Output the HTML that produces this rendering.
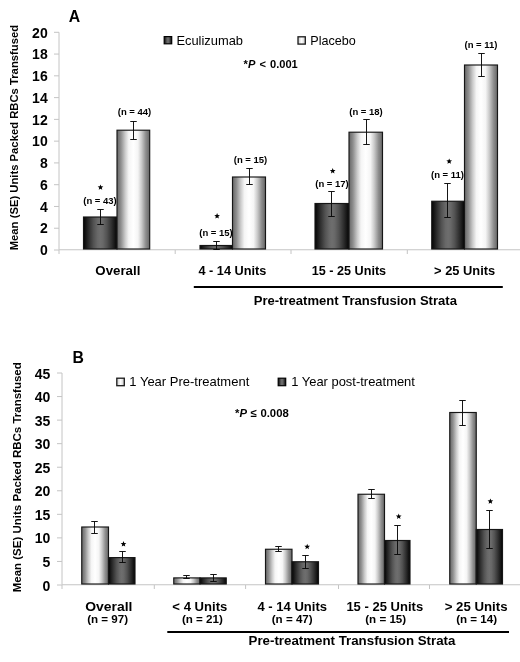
<!DOCTYPE html>
<html><head><meta charset="utf-8"><title>Figure</title>
<style>
html,body{margin:0;padding:0;background:#fff;}
body{width:520px;height:662px;overflow:hidden;font-family:"Liberation Sans",sans-serif;}
svg{display:block;will-change:transform;}
text{font-family:"Liberation Sans",sans-serif;fill:#000;}
.b{font-weight:bold;}
</style></head><body>
<svg width="520" height="662" viewBox="0 0 520 662">
<defs>
<linearGradient id="gl" x1="0" x2="1" y1="0" y2="0">
<stop offset="0" stop-color="#666"/><stop offset="0.12" stop-color="#8e8e8e"/><stop offset="0.25" stop-color="#cbcbcb"/><stop offset="0.36" stop-color="#f5f5f5"/><stop offset="0.5" stop-color="#fff"/><stop offset="0.64" stop-color="#f5f5f5"/><stop offset="0.75" stop-color="#cbcbcb"/><stop offset="0.88" stop-color="#8e8e8e"/><stop offset="1" stop-color="#666"/>
</linearGradient>
<linearGradient id="gs" x1="0" x2="1" y1="0" y2="0">
<stop offset="0" stop-color="#c8c8c8"/><stop offset="0.5" stop-color="#ffffff"/><stop offset="1" stop-color="#c8c8c8"/>
</linearGradient>
<linearGradient id="gd" x1="0" x2="1" y1="0" y2="0">
<stop offset="0" stop-color="#040404"/><stop offset="0.15" stop-color="#2c2c2c"/><stop offset="0.3" stop-color="#525252"/><stop offset="0.42" stop-color="#686868"/><stop offset="0.5" stop-color="#6e6e6e"/><stop offset="0.58" stop-color="#686868"/><stop offset="0.7" stop-color="#525252"/><stop offset="0.85" stop-color="#2c2c2c"/><stop offset="1" stop-color="#040404"/>
</linearGradient>
</defs>
<rect width="520" height="662" fill="#fff"/>

<path d="M59.0 32.3V249.75H520" stroke="#c4c4c4" stroke-width="1" fill="none"/>
<path d="M54.0 250.00H59.0" stroke="#c4c4c4" stroke-width="1"/>
<text x="47.70" y="255.20" font-size="14" class="b" text-anchor="end" >0</text>
<path d="M54.0 228.23H59.0" stroke="#c4c4c4" stroke-width="1"/>
<text x="47.70" y="233.43" font-size="14" class="b" text-anchor="end" >2</text>
<path d="M54.0 206.46H59.0" stroke="#c4c4c4" stroke-width="1"/>
<text x="47.70" y="211.66" font-size="14" class="b" text-anchor="end" >4</text>
<path d="M54.0 184.69H59.0" stroke="#c4c4c4" stroke-width="1"/>
<text x="47.70" y="189.89" font-size="14" class="b" text-anchor="end" >6</text>
<path d="M54.0 162.92H59.0" stroke="#c4c4c4" stroke-width="1"/>
<text x="47.70" y="168.12" font-size="14" class="b" text-anchor="end" >8</text>
<path d="M54.0 141.15H59.0" stroke="#c4c4c4" stroke-width="1"/>
<text x="47.70" y="146.35" font-size="14" class="b" text-anchor="end" >10</text>
<path d="M54.0 119.38H59.0" stroke="#c4c4c4" stroke-width="1"/>
<text x="47.70" y="124.58" font-size="14" class="b" text-anchor="end" >12</text>
<path d="M54.0 97.61H59.0" stroke="#c4c4c4" stroke-width="1"/>
<text x="47.70" y="102.81" font-size="14" class="b" text-anchor="end" >14</text>
<path d="M54.0 75.84H59.0" stroke="#c4c4c4" stroke-width="1"/>
<text x="47.70" y="81.04" font-size="14" class="b" text-anchor="end" >16</text>
<path d="M54.0 54.07H59.0" stroke="#c4c4c4" stroke-width="1"/>
<text x="47.70" y="59.27" font-size="14" class="b" text-anchor="end" >18</text>
<path d="M54.0 32.30H59.0" stroke="#c4c4c4" stroke-width="1"/>
<text x="47.70" y="37.50" font-size="14" class="b" text-anchor="end" >20</text>
<path d="M59.00 250.0V254.0" stroke="#c4c4c4" stroke-width="1"/>
<path d="M175.20 250.0V254.0" stroke="#c4c4c4" stroke-width="1"/>
<path d="M291.00 250.0V254.0" stroke="#c4c4c4" stroke-width="1"/>
<path d="M407.30 250.0V254.0" stroke="#c4c4c4" stroke-width="1"/>
<rect x="83.50" y="217.00" width="33.50" height="32.00" fill="url(#gd)" stroke="#161616" stroke-width="1.15"/>
<rect x="117.00" y="130.20" width="32.70" height="118.80" fill="url(#gl)" stroke="#161616" stroke-width="1.15"/>
<path d="M100.50 209.50V224.50M97.25 209.50H103.75M97.25 224.50H103.75" stroke="#0a0a0a" stroke-width="0.95" fill="none"/>
<path d="M133.50 121.50V139.50M130.25 121.50H136.75M130.25 139.50H136.75" stroke="#0a0a0a" stroke-width="0.95" fill="none"/>
<rect x="200.00" y="245.50" width="32.50" height="3.50" fill="url(#gd)" stroke="#161616" stroke-width="1.15"/>
<rect x="232.50" y="177.00" width="33.00" height="72.00" fill="url(#gl)" stroke="#161616" stroke-width="1.15"/>
<path d="M216.50 241.50V249.50M213.25 241.50H219.75M213.25 249.50H219.75" stroke="#0a0a0a" stroke-width="0.95" fill="none"/>
<path d="M249.50 168.50V184.50M246.25 168.50H252.75M246.25 184.50H252.75" stroke="#0a0a0a" stroke-width="0.95" fill="none"/>
<rect x="315.00" y="203.50" width="34.00" height="45.50" fill="url(#gd)" stroke="#161616" stroke-width="1.15"/>
<rect x="349.00" y="132.20" width="33.50" height="116.80" fill="url(#gl)" stroke="#161616" stroke-width="1.15"/>
<path d="M331.50 191.50V216.50M328.25 191.50H334.75M328.25 216.50H334.75" stroke="#0a0a0a" stroke-width="0.95" fill="none"/>
<path d="M366.50 119.50V144.50M363.25 119.50H369.75M363.25 144.50H369.75" stroke="#0a0a0a" stroke-width="0.95" fill="none"/>
<rect x="431.75" y="201.25" width="32.75" height="47.75" fill="url(#gd)" stroke="#161616" stroke-width="1.15"/>
<rect x="464.50" y="65.00" width="33.00" height="184.00" fill="url(#gl)" stroke="#161616" stroke-width="1.15"/>
<path d="M447.50 183.50V217.50M444.25 183.50H450.75M444.25 217.50H450.75" stroke="#0a0a0a" stroke-width="0.95" fill="none"/>
<path d="M481.50 53.50V76.50M478.25 53.50H484.75M478.25 76.50H484.75" stroke="#0a0a0a" stroke-width="0.95" fill="none"/>
<text x="100.00" y="204.10" font-size="9.5" class="b" text-anchor="middle" >(n = 43)</text>
<polygon points="100.50,184.40 101.26,186.35 103.35,186.47 101.74,187.80 102.26,189.83 100.50,188.70 98.74,189.83 99.26,187.80 97.65,186.47 99.74,186.35" fill="#000"/>
<text x="134.50" y="114.60" font-size="9.5" class="b" text-anchor="middle" >(n = 44)</text>
<text x="216.00" y="235.60" font-size="9.5" class="b" text-anchor="middle" >(n = 15)</text>
<polygon points="217.10,213.10 217.86,215.05 219.95,215.17 218.34,216.50 218.86,218.53 217.10,217.40 215.34,218.53 215.86,216.50 214.25,215.17 216.34,215.05" fill="#000"/>
<text x="250.50" y="163.10" font-size="9.5" class="b" text-anchor="middle" >(n = 15)</text>
<text x="332.00" y="187.10" font-size="9.5" class="b" text-anchor="middle" >(n = 17)</text>
<polygon points="332.70,168.00 333.46,169.95 335.55,170.07 333.94,171.40 334.46,173.43 332.70,172.30 330.94,173.43 331.46,171.40 329.85,170.07 331.94,169.95" fill="#000"/>
<text x="366.00" y="114.60" font-size="9.5" class="b" text-anchor="middle" >(n = 18)</text>
<text x="447.50" y="177.60" font-size="9.5" class="b" text-anchor="middle" >(n = 11)</text>
<polygon points="449.20,158.40 449.96,160.35 452.05,160.47 450.44,161.80 450.96,163.83 449.20,162.70 447.44,163.83 447.96,161.80 446.35,160.47 448.44,160.35" fill="#000"/>
<text x="481.00" y="47.60" font-size="9.5" class="b" text-anchor="middle" >(n = 11)</text>
<text x="95.35" y="275.10" font-size="12.7" class="b" textLength="45.03" lengthAdjust="spacingAndGlyphs">Overall</text>
<text x="198.50" y="275.10" font-size="12.7" class="b" textLength="67.83" lengthAdjust="spacingAndGlyphs">4 - 14 Units</text>
<text x="311.74" y="275.10" font-size="12.7" class="b" textLength="74.39" lengthAdjust="spacingAndGlyphs">15 - 25 Units</text>
<text x="434.10" y="275.10" font-size="12.7" class="b" textLength="61.13" lengthAdjust="spacingAndGlyphs">&gt; 25 Units</text>
<path d="M193.8 286.9H502.8" stroke="#000" stroke-width="2"/>
<text x="253.72" y="305.20" font-size="13.1" class="b" textLength="203.19" lengthAdjust="spacingAndGlyphs">Pre-treatment Transfusion Strata</text>
<rect x="164.2" y="36.6" width="7.5" height="7.2" fill="url(#gd)" stroke="#000" stroke-width="1.2"/>
<text x="176.40" y="44.70" font-size="12.9" class="" text-anchor="start" >Eculizumab</text>
<rect x="298" y="36.8" width="7.3" height="7.3" fill="url(#gs)" stroke="#1a1a1a" stroke-width="1.3"/>
<text x="310.30" y="44.70" font-size="12.6" class="" text-anchor="start" >Placebo</text>
<text x="243.60" y="67.90" font-size="11.1" class="b" text-anchor="start" word-spacing="1">*<tspan font-style="italic">P</tspan> &lt; 0.001</text>
<text x="68.80" y="22.00" font-size="15.8" class="b" text-anchor="start" >A</text>
<text transform="translate(18.2,250.3) rotate(-90)" font-size="11.27" class="b">Mean (SE) Units Packed RBCs Transfused</text>
<path d="M62.0 373.0V584.75H520" stroke="#c4c4c4" stroke-width="1" fill="none"/>
<path d="M57.0 585.00H62.0" stroke="#c4c4c4" stroke-width="1"/>
<text x="50.30" y="590.50" font-size="14" class="b" text-anchor="end" >0</text>
<path d="M57.0 561.44H62.0" stroke="#c4c4c4" stroke-width="1"/>
<text x="50.30" y="566.94" font-size="14" class="b" text-anchor="end" >5</text>
<path d="M57.0 537.89H62.0" stroke="#c4c4c4" stroke-width="1"/>
<text x="50.30" y="543.39" font-size="14" class="b" text-anchor="end" >10</text>
<path d="M57.0 514.33H62.0" stroke="#c4c4c4" stroke-width="1"/>
<text x="50.30" y="519.83" font-size="14" class="b" text-anchor="end" >15</text>
<path d="M57.0 490.78H62.0" stroke="#c4c4c4" stroke-width="1"/>
<text x="50.30" y="496.28" font-size="14" class="b" text-anchor="end" >20</text>
<path d="M57.0 467.22H62.0" stroke="#c4c4c4" stroke-width="1"/>
<text x="50.30" y="472.72" font-size="14" class="b" text-anchor="end" >25</text>
<path d="M57.0 443.67H62.0" stroke="#c4c4c4" stroke-width="1"/>
<text x="50.30" y="449.17" font-size="14" class="b" text-anchor="end" >30</text>
<path d="M57.0 420.11H62.0" stroke="#c4c4c4" stroke-width="1"/>
<text x="50.30" y="425.61" font-size="14" class="b" text-anchor="end" >35</text>
<path d="M57.0 396.56H62.0" stroke="#c4c4c4" stroke-width="1"/>
<text x="50.30" y="402.06" font-size="14" class="b" text-anchor="end" >40</text>
<path d="M57.0 373.00H62.0" stroke="#c4c4c4" stroke-width="1"/>
<text x="50.30" y="378.50" font-size="14" class="b" text-anchor="end" >45</text>
<path d="M62.00 585.0V589.0" stroke="#c4c4c4" stroke-width="1"/>
<path d="M154.30 585.0V589.0" stroke="#c4c4c4" stroke-width="1"/>
<path d="M245.60 585.0V589.0" stroke="#c4c4c4" stroke-width="1"/>
<path d="M338.50 585.0V589.0" stroke="#c4c4c4" stroke-width="1"/>
<path d="M429.50 585.0V589.0" stroke="#c4c4c4" stroke-width="1"/>
<rect x="81.75" y="527.00" width="26.75" height="57.00" fill="url(#gl)" stroke="#161616" stroke-width="1.15"/>
<rect x="108.50" y="557.60" width="26.50" height="26.40" fill="url(#gd)" stroke="#161616" stroke-width="1.15"/>
<path d="M94.50 521.50V533.50M91.25 521.50H97.75M91.25 533.50H97.75" stroke="#0a0a0a" stroke-width="0.95" fill="none"/>
<path d="M122.50 551.50V562.50M119.25 551.50H125.75M119.25 562.50H125.75" stroke="#0a0a0a" stroke-width="0.95" fill="none"/>
<polygon points="123.50,541.10 124.26,543.05 126.35,543.17 124.74,544.50 125.26,546.53 123.50,545.40 121.74,546.53 122.26,544.50 120.65,543.17 122.74,543.05" fill="#000"/>
<rect x="173.75" y="577.90" width="26.25" height="6.10" fill="url(#gl)" stroke="#161616" stroke-width="1.15"/>
<rect x="200.00" y="577.90" width="26.25" height="6.10" fill="url(#gd)" stroke="#161616" stroke-width="1.15"/>
<path d="M186.50 575.50V578.50M183.25 575.50H189.75M183.25 578.50H189.75" stroke="#0a0a0a" stroke-width="0.95" fill="none"/>
<path d="M213.50 574.50V581.50M210.25 574.50H216.75M210.25 581.50H216.75" stroke="#0a0a0a" stroke-width="0.95" fill="none"/>
<rect x="265.50" y="549.25" width="26.50" height="34.75" fill="url(#gl)" stroke="#161616" stroke-width="1.15"/>
<rect x="292.00" y="561.75" width="26.50" height="22.25" fill="url(#gd)" stroke="#161616" stroke-width="1.15"/>
<path d="M278.50 546.50V551.50M275.25 546.50H281.75M275.25 551.50H281.75" stroke="#0a0a0a" stroke-width="0.95" fill="none"/>
<path d="M305.50 555.50V568.50M302.25 555.50H308.75M302.25 568.50H308.75" stroke="#0a0a0a" stroke-width="0.95" fill="none"/>
<polygon points="307.20,543.80 307.96,545.75 310.05,545.87 308.44,547.20 308.96,549.23 307.20,548.10 305.44,549.23 305.96,547.20 304.35,545.87 306.44,545.75" fill="#000"/>
<rect x="358.00" y="494.25" width="26.50" height="89.75" fill="url(#gl)" stroke="#161616" stroke-width="1.15"/>
<rect x="384.50" y="540.50" width="25.50" height="43.50" fill="url(#gd)" stroke="#161616" stroke-width="1.15"/>
<path d="M371.50 489.50V498.50M368.25 489.50H374.75M368.25 498.50H374.75" stroke="#0a0a0a" stroke-width="0.95" fill="none"/>
<path d="M397.50 525.50V554.50M394.25 525.50H400.75M394.25 554.50H400.75" stroke="#0a0a0a" stroke-width="0.95" fill="none"/>
<polygon points="398.70,513.50 399.46,515.45 401.55,515.57 399.94,516.90 400.46,518.93 398.70,517.80 396.94,518.93 397.46,516.90 395.85,515.57 397.94,515.45" fill="#000"/>
<rect x="449.75" y="412.50" width="26.50" height="171.50" fill="url(#gl)" stroke="#161616" stroke-width="1.15"/>
<rect x="476.25" y="529.50" width="26.25" height="54.50" fill="url(#gd)" stroke="#161616" stroke-width="1.15"/>
<path d="M462.50 400.50V425.50M459.25 400.50H465.75M459.25 425.50H465.75" stroke="#0a0a0a" stroke-width="0.95" fill="none"/>
<path d="M489.50 510.50V548.50M486.25 510.50H492.75M486.25 548.50H492.75" stroke="#0a0a0a" stroke-width="0.95" fill="none"/>
<polygon points="490.40,498.40 491.16,500.35 493.25,500.47 491.64,501.80 492.16,503.83 490.40,502.70 488.64,503.83 489.16,501.80 487.55,500.47 489.64,500.35" fill="#000"/>
<text x="85.22" y="610.70" font-size="13.5" class="b" textLength="47.19" lengthAdjust="spacingAndGlyphs">Overall</text>
<text x="172.36" y="610.70" font-size="13.5" class="b" textLength="54.95" lengthAdjust="spacingAndGlyphs">&lt; 4 Units</text>
<text x="257.42" y="610.70" font-size="13.5" class="b" textLength="69.66" lengthAdjust="spacingAndGlyphs">4 - 14 Units</text>
<text x="346.38" y="610.70" font-size="13.5" class="b" textLength="76.75" lengthAdjust="spacingAndGlyphs">15 - 25 Units</text>
<text x="444.64" y="610.70" font-size="13.5" class="b" textLength="62.90" lengthAdjust="spacingAndGlyphs">&gt; 25 Units</text>
<text x="107.60" y="623.40" font-size="11.6" class="b" text-anchor="middle" >(n = 97)</text>
<text x="202.40" y="623.40" font-size="11.6" class="b" text-anchor="middle" >(n = 21)</text>
<text x="292.20" y="623.40" font-size="11.6" class="b" text-anchor="middle" >(n = 47)</text>
<text x="385.70" y="623.40" font-size="11.6" class="b" text-anchor="middle" >(n = 15)</text>
<text x="476.60" y="623.40" font-size="11.6" class="b" text-anchor="middle" >(n = 14)</text>
<path d="M167.3 631.9H509" stroke="#000" stroke-width="2"/>
<text x="248.56" y="644.60" font-size="13.2" class="b" textLength="206.83" lengthAdjust="spacingAndGlyphs">Pre-treatment Transfusion Strata</text>
<rect x="116.8" y="378.2" width="7.5" height="7.5" fill="url(#gs)" stroke="#1a1a1a" stroke-width="1.3"/>
<text x="129.30" y="386.10" font-size="13.0" class="" text-anchor="start" >1 Year Pre-treatment</text>
<rect x="278.2" y="378.2" width="7.5" height="7.5" fill="url(#gd)" stroke="#000" stroke-width="1.2"/>
<text x="291.20" y="386.10" font-size="12.95" class="" text-anchor="start" >1 Year post-treatment</text>
<text x="235.00" y="416.60" font-size="11.3" class="b" text-anchor="start" word-spacing="0.5">*<tspan font-style="italic">P</tspan> ≤ 0.008</text>
<text x="72.60" y="363.00" font-size="15.8" class="b" text-anchor="start" >B</text>
<text transform="translate(20.5,592.3) rotate(-90)" font-size="11.5" class="b">Mean (SE) Units Packed RBCs Transfused</text>
</svg></body></html>
